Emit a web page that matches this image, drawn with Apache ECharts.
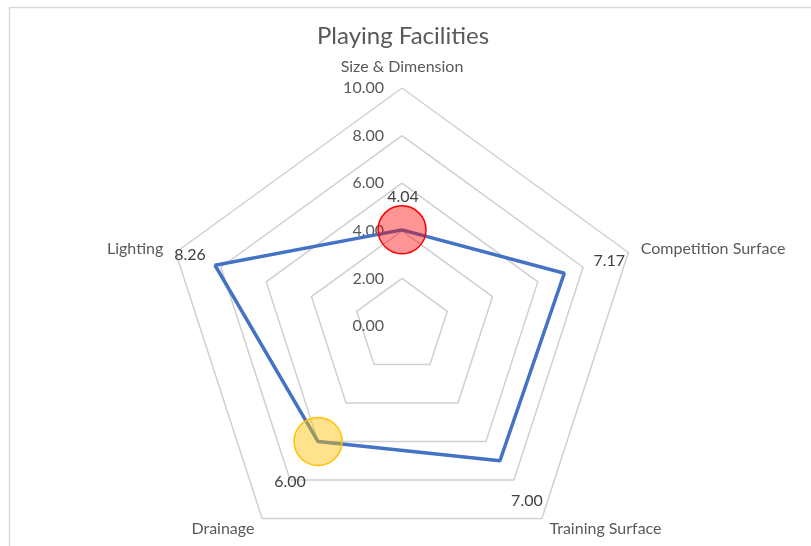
<!DOCTYPE html>
<html>
<head>
<meta charset="utf-8">
<script src="https://cdn.jsdelivr.net/npm/echarts@6/dist/echarts.min.js"></script>
<style>
  html, body { margin: 0; padding: 0; background: #fff; }
  #chart { width: 811px; height: 546px; }
</style>
</head>
<body>
<div id="chart"></div>
<script>
  // data
  const indicatorNames = ['Size & Dimension', 'Competition Surface', 'Training Surface', 'Drainage', 'Lighting'];
  const scores = [4.04, 7.17, 7.00, 6.00, 8.26];
  const tickValues = [0, 2, 4, 6, 8, 10];

  // styling per vertex (label offsets, highlight circles)
  const labelOffsets = [[1, -33], [45, -12], [27, 40], [-28, 40], [-25, -10]];
  const highlights = {
    0: { color: 'rgba(255,0,0,0.42)', border: '#ff0000' },
    3: { color: 'rgba(255,192,0,0.45)', border: '#ffc000' }
  };

  const center = [402, 326];
  const radius = 238;
  const textColor = '#595959';
  const font = 'Lato, "Open Sans", sans-serif';

  const step = 360 / scores.length;
  const lineData = scores.map(function (v, i) {
    const h = highlights[i];
    return {
      value: [v, i * step],
      symbolSize: h ? 48 : 1,
      itemStyle: h
        ? { color: h.color, borderColor: h.border, borderWidth: 1.5, opacity: 1 }
        : { color: 'transparent', borderWidth: 0 },
      label: { show: true, offset: labelOffsets[i] }
    };
  });
  // close the loop back to the first indicator
  lineData.push({
    value: [scores[0], 360],
    symbolSize: 1,
    itemStyle: { color: 'transparent', borderWidth: 0 },
    label: { show: false }
  });

  // radar lays indicators out counter-clockwise, the line runs clockwise
  const radarOrder = [indicatorNames[0]].concat(indicatorNames.slice(1).reverse());

  const chart = echarts.init(document.getElementById('chart'));
  chart.setOption({
    animation: false,
    title: {
      text: 'Playing Facilities',
      left: 312,
      top: 19,
      textStyle: { color: textColor, fontSize: 24, fontWeight: 'normal', fontFamily: font }
    },
    graphic: [{
      type: 'rect',
      shape: { x: 9.5, y: 7.5, width: 900, height: 700 },
      style: { fill: 'none', stroke: '#d9d9d9', lineWidth: 1.5 },
      silent: true
    }],
    radar: {
      center: center,
      radius: radius,
      startAngle: 90,
      splitNumber: tickValues.length - 1,
      shape: 'polygon',
      nameGap: 13,
      indicator: radarOrder.map(function (n) {
        return { name: n, min: tickValues[0], max: tickValues[tickValues.length - 1] };
      }),
      axisName: { color: textColor, fontSize: 16, fontFamily: font },
      axisLine: { show: false },
      axisTick: { show: false },
      axisLabel: { show: false },
      splitArea: { show: false },
      splitLine: { lineStyle: { color: '#d0d0d0', width: 1.5 } }
    },
    polar: { center: center, radius: radius },
    angleAxis: {
      type: 'value', min: 0, max: 360, startAngle: 90, clockwise: true,
      axisLine: { show: false }, axisTick: { show: false },
      axisLabel: { show: false }, splitLine: { show: false }
    },
    radiusAxis: {
      type: 'value',
      min: tickValues[0],
      max: tickValues[tickValues.length - 1],
      interval: tickValues[1] - tickValues[0],
      axisLine: { show: false },
      axisTick: { show: false },
      splitLine: { show: false },
      axisLabel: {
        color: textColor, fontSize: 16, fontFamily: font, margin: 18,
        formatter: function (v) { return v.toFixed(2); }
      }
    },
    series: [{
      type: 'line',
      coordinateSystem: 'polar',
      data: lineData,
      symbol: 'circle',
      showAllSymbol: true,
      lineStyle: { color: '#4472c4', width: 3.5 },
      label: {
        position: 'inside',
        color: '#404040',
        fontSize: 16,
        fontFamily: font,
        formatter: function (p) { return p.value[0].toFixed(2); }
      },
      emphasis: { disabled: true },
      z: 3
    }]
  });
</script>
</body>
</html>
